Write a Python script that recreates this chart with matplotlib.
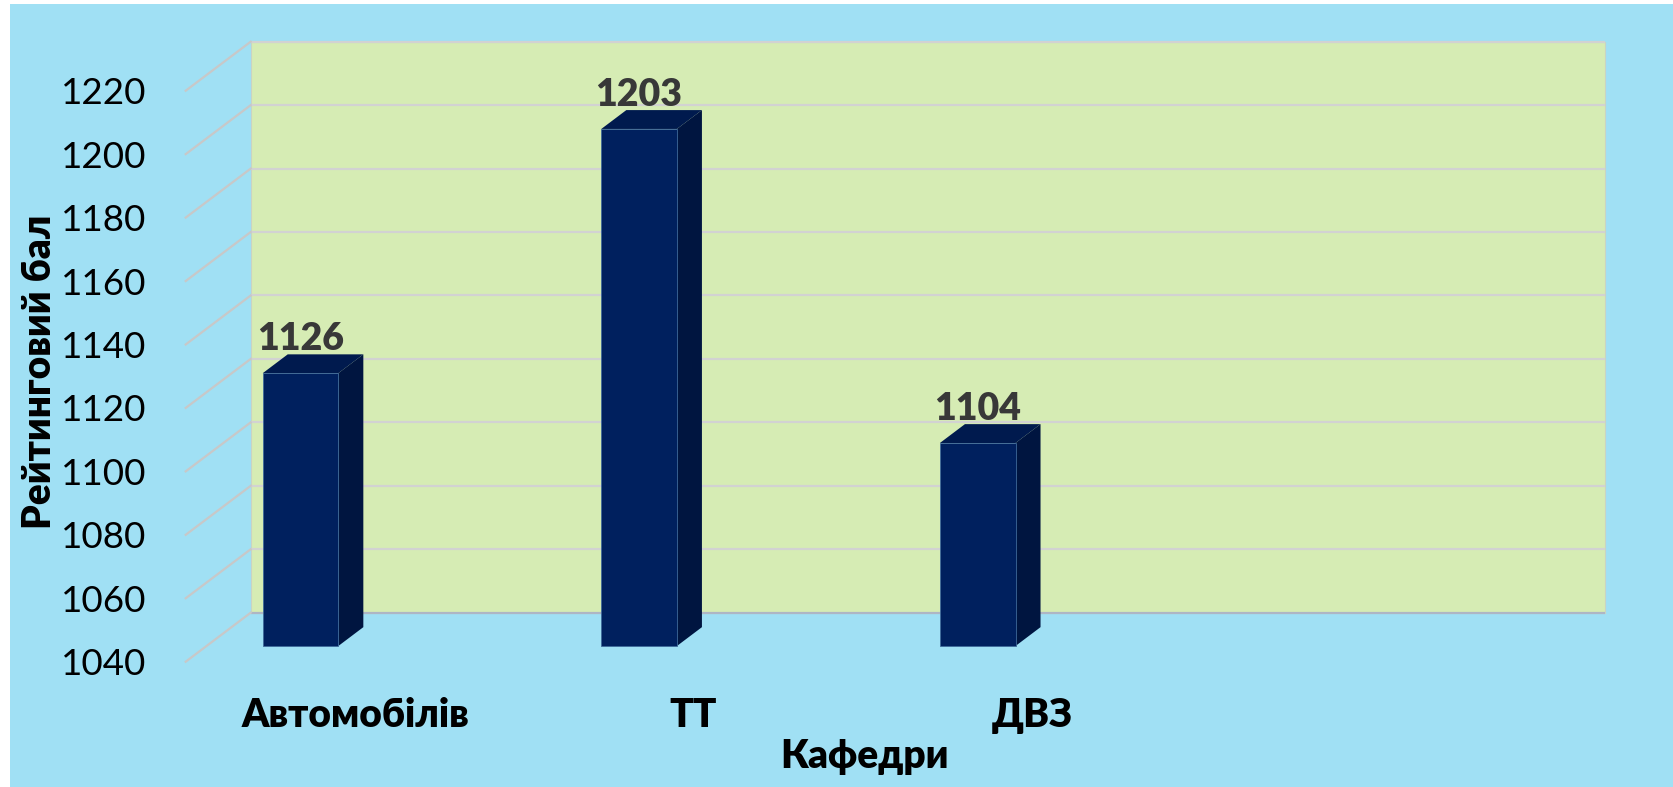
import matplotlib
matplotlib.use("Agg")
import matplotlib.pyplot as plt
from matplotlib.patches import Polygon, Rectangle
import numpy as np

# ---- data ----
categories = ["Автомобілів", "ТТ", "ДВЗ", ""]
values = [1126, 1203, 1104]
y_ticks = list(range(1040, 1221, 20))
y_label = "Рейтинговий бал"
x_label = "Кафедри"

# ---- style ----
BG = "#A0E0F4"
WALL = "#D6ECB4"
GRID = "#D2D2D2"
FRONT = "#00205E"
SIDE = "#001540"
TOP = "#001A4E"
FONT = ["Lato", "Roboto", "DejaVu Sans"]
BOLD = "heavy"

W, H = 1673, 787
fig = plt.figure(figsize=(W / 100, H / 100), dpi=100)
fig.patch.set_facecolor("white")
fig.patches.append(Rectangle((10 / W, 0), 1 - 10 / W, 1 - 4 / H, transform=fig.transFigure,
                             facecolor=BG, edgecolor="none", zorder=-10))

# axes = front plane of the 3D box
left_px, right_px = 185.7, 1540.1
top_px, bot_px = 90.7, 661.7
ax = fig.add_axes([left_px / W, 1 - bot_px / H, (right_px - left_px) / W, (bot_px - top_px) / H])
ax.set_facecolor("none")
for s in ax.spines.values():
    s.set_visible(False)
n_slots = len(categories)
ymin, ymax = y_ticks[0], y_ticks[-1]
ax.set_xlim(0, n_slots)
ax.set_ylim(ymin, ymax)

px_per_slot = (right_px - left_px) / n_slots
px_per_unit = (bot_px - top_px) / (ymax - ymin)
DX = 65 / px_per_slot      # depth offset in data x
DY = 49 / px_per_unit      # depth offset in data y

# back wall
wall = Polygon([(DX, ymin + DY), (n_slots + DX, ymin + DY), (n_slots + DX, ymax + DY), (DX, ymax + DY)],
               closed=True, facecolor=WALL, edgecolor="#C9D3C4", lw=0.8, zorder=1, clip_on=False)
ax.add_patch(wall)
for v in y_ticks:
    col = "#AEB6C4" if v == ymin else GRID
    ax.plot([DX, n_slots + DX], [v + DY, v + DY], color=col, lw=1.6, zorder=2,
            clip_on=False, solid_capstyle="butt")
    ax.plot([0, DX], [v, v + DY], color="#C8C8C8", lw=1.6, zorder=2, clip_on=False)

# 3D bars
f0, f1 = 0.32, 0.705
bar_w = 75.6 / px_per_slot
base_pos = 0.1660
for i, v in enumerate(values):
    xb = i + base_pos
    x0 = xb + f0 * DX
    x1 = x0 + bar_w
    b0 = ymin + f0 * DY
    t0 = v + f0 * DY
    ddx = (f1 - f0) * DX
    ddy = (f1 - f0) * DY
    front = Polygon([(x0, b0), (x1, b0), (x1, t0), (x0, t0)], closed=True,
                    facecolor=FRONT, edgecolor="#3F6A9A", lw=0.6, zorder=5, clip_on=False)
    side = Polygon([(x1, b0), (x1 + ddx, b0 + ddy), (x1 + ddx, t0 + ddy), (x1, t0)], closed=True,
                   facecolor=SIDE, edgecolor="none", zorder=4, clip_on=False)
    top = Polygon([(x0, t0), (x1, t0), (x1 + ddx, t0 + ddy), (x0 + ddx, t0 + ddy)], closed=True,
                  facecolor=TOP, edgecolor="none", zorder=4, clip_on=False)
    for p in (side, top, front):
        ax.add_patch(p)
    ax.annotate(str(v), xy=((x0 + x1) / 2, t0 + ddy), xytext=(0, 3.0), textcoords="offset points",
                ha="center", va="baseline", fontsize=27, fontweight=BOLD, color="#383838",
                family=FONT, zorder=6, annotation_clip=False)

# ticks
ax.set_yticks(y_ticks)
ax.set_yticklabels([str(t) for t in y_ticks], family=FONT, fontsize=26.5, color="black")
ax.tick_params(axis="y", length=0, pad=28.5)
ax.set_xticks(np.arange(n_slots) + 0.5)
ax.set_xticklabels(categories, family=FONT, fontsize=28, fontweight=BOLD, color="black")
ax.tick_params(axis="x", length=0, pad=47.2)
for lbl in ax.get_xticklabels():
    lbl.set_va("baseline")

fig.text(864.5 / W, 1 - 768 / H, x_label, ha="center", va="baseline", fontsize=28,
         fontweight=BOLD, family=FONT, color="black")
fig.text(40 / W, 1 - 372 / H, y_label, ha="center", va="center", rotation=90, fontsize=28,
         fontweight=BOLD, family=FONT, color="black")

fig.savefig("out.png", dpi=100, facecolor=fig.get_facecolor())
